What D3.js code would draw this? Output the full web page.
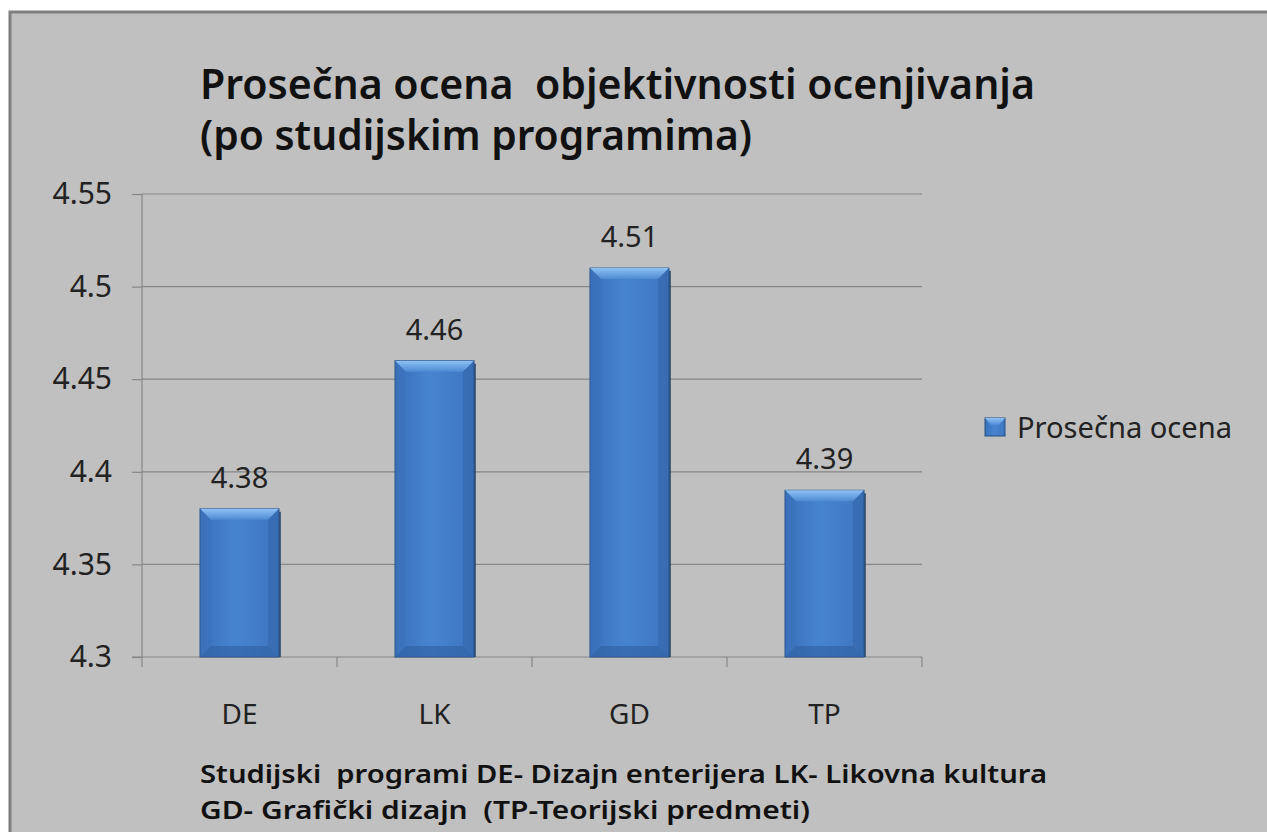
<!DOCTYPE html>
<html lang="sr">
  <head>
    <meta charset="UTF-8" />
    <title>Prosečna ocena</title>
    <style>
      body { margin: 0; background: #fff; }
      svg { display: block; font-family: "Noto Sans", "Open Sans", sans-serif; }
      svg text { white-space: pre; }
    </style>
  </head>
  <body>
    <div id="wrapper"></div>
    <script src="https://d3js.org/d3.v7.min.js"></script>
    <script>
      // data
      const categories = ["DE", "LK", "GD", "TP"];
      const values = [4.38, 4.46, 4.51, 4.39];
      const yTicks = [4.3, 4.35, 4.4, 4.45, 4.5, 4.55];
      const seriesName = "Prosečna ocena";
      const titleLines = ["Prosečna ocena  objektivnosti ocenjivanja", "(po studijskim programima)"];
      const axisTitleLines = ["Studijski  programi DE- Dizajn enterijera LK- Likovna kultura",
                              "GD- Grafički dizajn  (TP-Teorijski predmeti)"];

      const W = 1267, H = 832;
      const margin = {top: 194, left: 142, right: 345, bottom: 175};
      const width = W - margin.left - margin.right,
            height = H - margin.top - margin.bottom;

      const svg = d3.select("#wrapper").append("svg")
          .attr("width", W).attr("height", H);

      // chart area + border (image is cropped at right/bottom)
      svg.append("rect")
          .attr("x", 10).attr("y", 12)
          .attr("width", W + 20).attr("height", H + 20)
          .attr("fill", "#c0c0c0")
          .attr("stroke", "#7f7f7f").attr("stroke-width", 3);

      const defs = svg.append("defs");
      const body = defs.append("linearGradient").attr("id", "barBody")
          .attr("x1", 0).attr("x2", 1).attr("y1", 0).attr("y2", 0);
      body.append("stop").attr("offset", "0%").attr("stop-color", "#3a71ba");
      body.append("stop").attr("offset", "45%").attr("stop-color", "#4784d0");
      body.append("stop").attr("offset", "100%").attr("stop-color", "#3d75bf");
      const topG = defs.append("linearGradient").attr("id", "barTop")
          .attr("x1", 0).attr("x2", 0).attr("y1", 0).attr("y2", 1);
      topG.append("stop").attr("offset", "0%").attr("stop-color", "#8ec2f5");
      topG.append("stop").attr("offset", "100%").attr("stop-color", "#4d8ad3");

      const g = svg.append("g")
          .attr("transform", "translate(" + margin.left + "," + margin.top + ")");

      const x = d3.scaleBand().domain(categories).range([0, width]).paddingInner(0.595).paddingOuter(0.2975);
      const y = d3.scaleLinear().domain([4.3, 4.55]).range([height, 0]);

      // gridlines
      g.selectAll(".grid").data(yTicks.slice(1)).enter().append("line")
          .attr("x1", 0).attr("x2", width)
          .attr("y1", d => y(d)).attr("y2", d => y(d))
          .attr("stroke", "#868686").attr("stroke-width", 1.2);

      // y axis
      const yAxis = g.append("g")
          .call(d3.axisLeft(y).tickValues(yTicks).tickSize(10).tickPadding(20).tickFormat(d3.format("")));
      yAxis.select(".domain").attr("stroke", "#868686").attr("stroke-width", 1.2).attr("d", "M0,0V" + height);
      yAxis.selectAll(".tick line").attr("stroke", "#868686").attr("stroke-width", 1.2);
      yAxis.selectAll("text").attr("font-size", 30).attr("fill", "#222")
          .attr("font-family", "Noto Sans");

      // x axis: ticks at category boundaries
      const xAxisG = g.append("g").attr("transform", "translate(0," + height + ")");
      xAxisG.append("line").attr("x1", -10).attr("x2", width)
          .attr("stroke", "#868686").attr("stroke-width", 1.2);
      const step = x.step();
      xAxisG.selectAll(".xt").data(d3.range(categories.length + 1)).enter().append("line")
          .attr("x1", i => i * step).attr("x2", i => i * step)
          .attr("y1", 0).attr("y2", 10)
          .attr("stroke", "#868686").attr("stroke-width", 1.2);
      xAxisG.selectAll(".xl").data(categories).enter().append("text")
          .attr("x", d => x(d) + x.bandwidth() / 2)
          .attr("y", 67)
          .attr("text-anchor", "middle")
          .attr("font-size", 28).attr("fill", "#222")
          .text(d => d);

      // bars
      const bev = 11;
      const bars = g.selectAll(".bar").data(values).enter().append("g");
      bars.append("rect")
          .attr("x", (d, i) => x(categories[i]))
          .attr("y", d => y(d))
          .attr("width", x.bandwidth())
          .attr("height", d => height - y(d))
          .attr("fill", "url(#barBody)")
          .attr("stroke", "#244e84").attr("stroke-width", 1);
      // top bevel
      bars.append("polygon")
          .attr("points", (d, i) => {
            const x0 = x(categories[i]), x1 = x0 + x.bandwidth(), y0 = y(d);
            return [[x0, y0], [x1, y0], [x1 - bev, y0 + bev], [x0 + bev, y0 + bev]].join(" ");
          })
          .attr("fill", "url(#barTop)");
      // bottom bevel
      bars.append("polygon")
          .attr("points", (d, i) => {
            const x0 = x(categories[i]), x1 = x0 + x.bandwidth(), yb = height;
            return [[x0, yb], [x1, yb], [x1 - bev, yb - bev], [x0 + bev, yb - bev]].join(" ");
          })
          .attr("fill", "#3264a6").attr("opacity", 0.7);
      // side bevels
      bars.append("polygon")
          .attr("points", (d, i) => {
            const x0 = x(categories[i]), y0 = y(d);
            return [[x0, y0], [x0 + bev, y0 + bev], [x0 + bev, height - bev], [x0, height]].join(" ");
          })
          .attr("fill", "#3a6fb6").attr("opacity", 0.35);
      bars.append("polygon")
          .attr("points", (d, i) => {
            const x1 = x(categories[i]) + x.bandwidth(), y0 = y(d);
            return [[x1, y0], [x1 - bev, y0 + bev], [x1 - bev, height - bev], [x1, height]].join(" ");
          })
          .attr("fill", "#2d5c9c").attr("opacity", 0.35);
      bars.append("line")
          .attr("x1", (d, i) => x(categories[i]) + x.bandwidth() + 1)
          .attr("x2", (d, i) => x(categories[i]) + x.bandwidth() + 1)
          .attr("y1", d => y(d) + 3).attr("y2", height)
          .attr("stroke", "#1d3f6b").attr("stroke-width", 1.5);

      // value labels
      g.selectAll(".val").data(values).enter().append("text")
          .attr("x", (d, i) => x(categories[i]) + x.bandwidth() / 2)
          .attr("y", d => y(d) - 21)
          .attr("text-anchor", "middle")
          .attr("font-size", 29).attr("fill", "#222")
          .text(d => d);

      // title
      svg.append("g").selectAll("text").data(titleLines).enter().append("text")
          .attr("x", 200).attr("y", (d, i) => 99 + i * 51)
          .attr("font-size", 41).attr("font-weight", 600).attr("fill", "#111")
          .attr("textLength", (d, i) => [835, 552][i]).attr("lengthAdjust", "spacingAndGlyphs")
          .text(d => d);

      // axis title
      svg.append("g").selectAll("text").data(axisTitleLines).enter().append("text")
          .attr("x", 200).attr("y", (d, i) => 783 + i * 36)
          .attr("font-size", 26).attr("font-weight", 600).attr("fill", "#111")
          .attr("textLength", (d, i) => [847, 610][i]).attr("lengthAdjust", "spacingAndGlyphs")
          .text(d => d);

      // legend
      const leg = svg.append("g").attr("transform", "translate(985,418)");
      leg.append("rect").attr("width", 20).attr("height", 18)
          .attr("fill", "url(#barBody)").attr("stroke", "#244e84");
      leg.append("polygon").attr("points", "0,0 20,0 14,7 6,7").attr("fill", "url(#barTop)");
      leg.append("text").attr("x", 32).attr("y", 20)
          .attr("font-size", 29).attr("fill", "#222")
          .attr("textLength", 215).attr("lengthAdjust", "spacingAndGlyphs")
          .text(seriesName);
    </script>
  </body>
</html>
